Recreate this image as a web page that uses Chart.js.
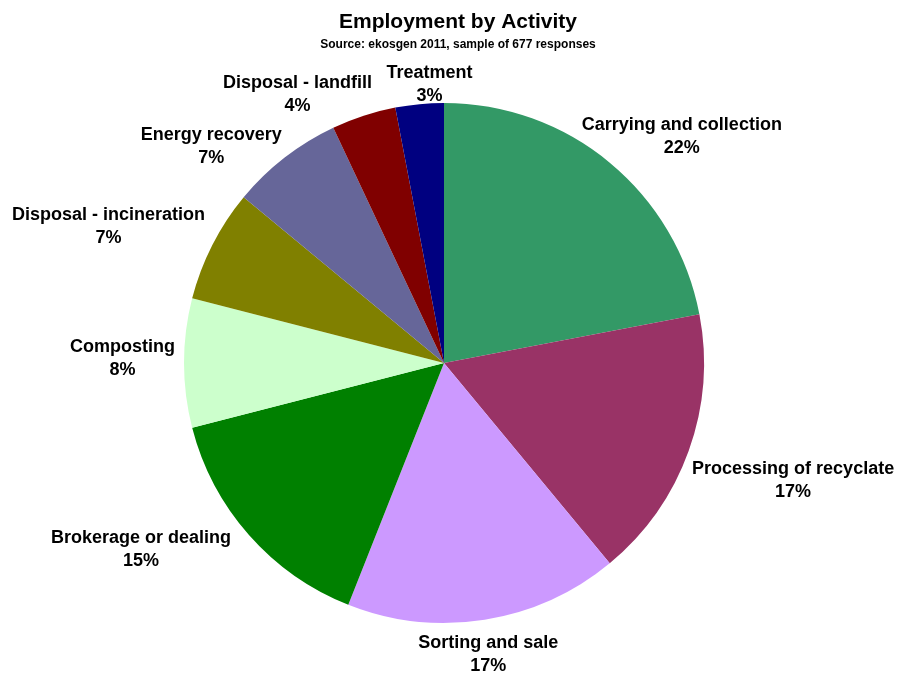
<!DOCTYPE html>
<html>
<head>
<meta charset="utf-8">
<title>Employment by Activity</title>
<script src="https://cdn.jsdelivr.net/npm/chart.js@4.4.1/dist/chart.umd.min.js"></script>
<style>
  html, body { margin: 0; padding: 0; background: #ffffff; }
  #wrap { width: 898px; height: 673px; }
</style>
</head>
<body>
<div id="wrap"><canvas id="activityChart" width="898" height="673"></canvas></div>
<script>
  'use strict';

  // Share of employment per activity (%), clockwise from 12 o'clock
  var activities = [
    'Carrying and collection',
    'Processing of recyclate',
    'Sorting and sale',
    'Brokerage or dealing',
    'Composting',
    'Disposal - incineration',
    'Energy recovery',
    'Disposal - landfill',
    'Treatment'
  ];
  var shares = [22, 17, 17, 15, 8, 7, 7, 4, 3];

  var sliceColors = [
    '#339966', '#993366', '#CC99FF', '#008000', '#CCFFCC',
    '#808000', '#666699', '#800000', '#000080'
  ];

  // Small hand tweaks to the outside label placement (px)
  var labelNudge = [
    [2, -1], [0, 18], [-9, 2], [-33, -7], [1, -4],
    [-9, -3], [-24, 15], [-40, 10], [15, 13]
  ];

  var FONT = '"Liberation Sans", Arial, Helvetica, sans-serif';

  // Title, subtitle and outside-end category labels
  var pieLabels = {
    id: 'pieLabels',
    afterDraw: function (chart) {
      var ctx = chart.ctx;
      ctx.save();
      ctx.fillStyle = '#000000';
      ctx.textAlign = 'center';
      ctx.textBaseline = 'middle';

      ctx.font = 'bold 21px ' + FONT;
      ctx.fillText('Employment by Activity', 458, 22);
      ctx.font = 'bold 12px ' + FONT;
      ctx.fillText('Source: ekosgen 2011, sample of 677 responses', 458, 45);

      ctx.font = 'bold 18px ' + FONT;
      var lineH = 23;
      var meta = chart.getDatasetMeta(0);
      meta.data.forEach(function (arc, i) {
        var mid = (arc.startAngle + arc.endAngle) / 2;
        var dx = Math.cos(mid), dy = Math.sin(mid);
        var name = activities[i];
        var pct = shares[i] + '%';
        var w = Math.max(ctx.measureText(name).width, ctx.measureText(pct).width);
        var h = lineH * 2;
        var ax = arc.x + dx * (arc.outerRadius + 10);
        var ay = arc.y + dy * (arc.outerRadius + 10);
        var cx = ax + dx * w / 2 + labelNudge[i][0];
        var cy = ay + dy * h / 2 + labelNudge[i][1];
        ctx.fillText(name, cx, cy - lineH / 2);
        ctx.fillText(pct, cx, cy + lineH / 2);
      });
      ctx.restore();
    }
  };

  var ctx = document.getElementById('activityChart').getContext('2d');
  new Chart(ctx, {
    type: 'pie',
    data: {
      labels: activities,
      datasets: [{
        data: shares,
        backgroundColor: sliceColors,
        borderWidth: 0
      }]
    },
    options: {
      responsive: false,
      animation: false,
      layout: {
        padding: { left: 184, top: 103, right: 194, bottom: 50 }
      },
      plugins: {
        legend: { display: false },
        tooltip: { enabled: false },
        title: { display: false }
      }
    },
    plugins: [pieLabels]
  });
</script>
</body>
</html>
